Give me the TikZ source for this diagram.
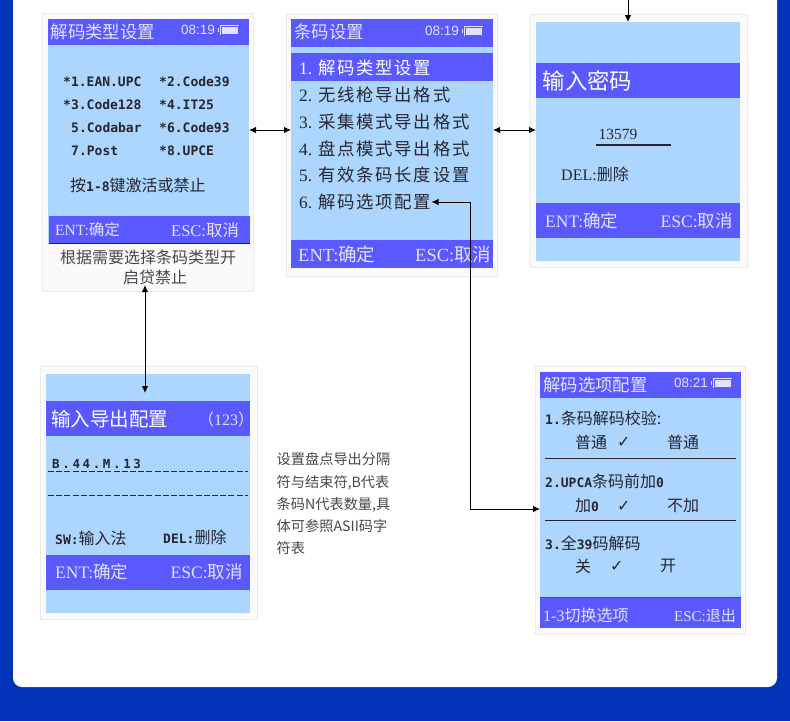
\documentclass[tikz,border=0pt]{standalone}
\usepackage{fontspec}
\usepackage{tikz}
\usetikzlibrary{shapes,arrows,arrows.meta,positioning}
\setmainfont{Noto Sans CJK SC}
\newfontfamily\menufont[LetterSpace=10]{Noto Sans CJK SC}
\newfontfamily\latfont{Liberation Serif}
\newfontfamily\timefont{Liberation Sans}
\newfontfamily\codefont{DejaVu Sans Mono}
\newfontfamily\widecode[LetterSpace=21]{DejaVu Sans Mono}
\newfontfamily\tickfont{DejaVu Sans}
\newcommand{\lat}[1]{{\latfont #1}}
\newcommand{\cd}[1]{{\codefont\bfseries\fontsize{13}{14}\selectfont #1}}
\newcommand{\num}[1]{\makebox[19pt][l]{\latfont #1}}
\definecolor{framebg}{HTML}{0033B8}
\definecolor{cardbg}{HTML}{FAFAFA}
\definecolor{cardline}{HTML}{EBEBEB}
\definecolor{scrbg}{HTML}{ADD6FF}
\definecolor{bandbg}{HTML}{5959FF}
\definecolor{pale}{HTML}{E2E2FF}
\definecolor{ink}{HTML}{262630}

\begin{document}
\begin{tikzpicture}[x=1pt, y=-1pt,
    card/.style={rectangle, draw=cardline, fill=cardbg, line width=1pt, anchor=north west, inner sep=0pt, outer sep=0pt},
    screen/.style={rectangle, fill=scrbg, anchor=north west, inner sep=0pt, outer sep=0pt},
    band/.style={rectangle, fill=bandbg, anchor=north west, inner sep=0pt, outer sep=0pt},
    txt/.style={anchor=west, inner sep=0pt, text=ink, font=\fontsize{16}{18}\selectfont},
    head/.style={txt, text=pale, font=\fontsize{17.4}{20}\selectfont},
    bighead/.style={txt, text=white, font=\fontsize{#1}{24}\selectfont},
    foot/.style={txt, text=pale, font=\fontsize{#1}{20}\selectfont},
    clock/.style={txt, text=pale, font=\timefont\fontsize{13.5}{16}\selectfont},
    menu/.style={txt, font=\menufont\fontsize{17.4}{20}\selectfont},
    tick/.style={txt, font=\tickfont\fontsize{16}{18}\selectfont},
    battery/.style={rectangle, draw=pale, double=bandbg, double distance=.8pt, line width=.7pt, fill=pale, minimum width=17pt, minimum height=8pt, inner sep=0pt, outer sep=1pt},
    nub/.style={rectangle, fill=pale, minimum width=1.5pt, minimum height=4pt, inner sep=0pt, outer sep=0pt},
    rule/.style={draw=ink, line width=1pt},
    dashrule/.style={draw=ink, line width=1pt, dash pattern=on 6pt off 2.2pt},
    biline/.style={draw, {Latex[length=7pt,width=6.5pt]}-{Latex[length=7pt,width=6.5pt]}, line width=1pt},
    oneline/.style={draw, -{Latex[length=7pt,width=6.5pt]}, line width=1pt}]

    % page
    \useasboundingbox (0,0) rectangle (790,721);
    \fill[framebg] (0,0) rectangle (790,721);
    \fill[white, rounded corners=9pt] (13,-30) -- (13,687) -- (777,687) -- (777,-30) -- cycle;

    % cards and screens
    \node [card, minimum width=210.5pt, minimum height=277.5pt] (typecard) at (42.5,13.5) {};
    \node [card, minimum width=210.5pt, minimum height=261.5pt] (setcard) at (286.5,14.5) {};
    \node [card, minimum width=216.5pt, minimum height=252.5pt] (pwdcard) at (530.5,14.5) {};
    \node [card, minimum width=216.5pt, minimum height=252.5pt] (iocard) at (40.5,366.5) {};
    \node [card, minimum width=210pt, minimum height=267.5pt] (optcard) at (535,366.5) {};

    \node [screen, minimum width=201pt, minimum height=225pt] (typescr) at (48,19) {};
    \node [screen, minimum width=202pt, minimum height=249pt] (setscr) at (291,19) {};
    \node [screen, minimum width=204pt, minimum height=239pt] (pwdscr) at (536,22) {};
    \node [screen, minimum width=204pt, minimum height=239pt] (ioscr) at (46,374) {};
    \node [screen, minimum width=201pt, minimum height=256pt] (optscr) at (540,372) {};

    % bands
    \foreach \nm/\bx/\by/\bw/\bh in {typetop/48/19/201/26, typebot/49/216/201/27,
        settop/291/19/202/28, setsel/291/53/202/28, setbot/291/240/202/28,
        pwdtop/536/63/204/35, pwdbot/536/203/204/35,
        iotop/46/401/204/35, iobot/46/555/204/35,
        opttop/540/372/201/26, optbot/540/597/201/31}
        \node [band, minimum width=\bw pt, minimum height=\bh pt] (\nm) at (\bx,\by) {};
    \draw [draw=ink, line width=.6pt] (typebot.south west) -- (typebot.south east);

    % status bars
    \foreach \nm/\bx/\by/\tm in {a/181/30/08:19, b/425/31/08:19, c/674/383/08:21} {
        \node [clock] (clock\nm) at (\bx,\by) {\tm};
        \node [battery, right=5pt of clock\nm] (batt\nm) {};
        \node [nub, left=1pt of batt\nm] (nub\nm) {};
    }

    % left card
    \node [head] (typetitle) at (50.5,32) {解码类型设置};
    \foreach \n/\bx/\by/\lbl in {1/63/82/*1.EAN.UPC, 2/159/82/*2.Code39, 3/63/105/*3.Code128, 4/159/105/*4.IT25,
        5/71/128/5.Codabar, 6/159/128/*6.Code93, 7/71/151/7.Post, 8/159/151/*8.UPCE}
        \node [txt] (type\n) at (\bx,\by) {\cd{\lbl}};
    \node [txt] (typehint) at (70,185) {按\cd{1-8}键激活或禁止};
    \node [foot=15.5] (typeok) at (55,230) {\lat{ENT:}确定};
    \node [foot=16.5] (typeesc) at (171,230) {\lat{ESC:}取消};
    \node [txt, text=ink!85] (typenote) at (60,257) {根据需要选择条码类型开};
    \node [txt, text=ink!85] (typenotb) at (123,277) {启贷禁止};

    % middle card
    \node [head] (settitle) at (294,32) {条码设置};
    \node [menu, text=white] (item1) at (299,67.5) {\num{1.}解码类型设置};
    \foreach \n/\by/\lbl in {2/95/无线枪导出格式, 3/122/采集模式导出格式, 4/148.5/盘点模式导出格式, 5/175/有效条码长度设置, 6/202/解码选项配置}
        \node [menu] (item\n) at (299,\by) {\num{\n.}\lbl};
    \node [foot=18.5] (setok) at (298,254) {\lat{ENT:}确定};
    \node [foot=18.5] (setesc) at (415,254) {\lat{ESC:}取消};

    % password card
    \node [bighead=22.3] (pwdtitle) at (542.5,81) {输入密码};
    \node [txt, font=\latfont\fontsize{15.5}{18}\selectfont] (pwdval) at (598.5,134.5) {13579};
    \draw [rule, line width=1.5pt] (596,145) -- (671,145);
    \node [txt] (pwddel) at (561,174) {\lat{DEL:}删除};
    \node [foot=17.5] (pwdok) at (545,220.5) {\lat{ENT:}确定};
    \node [foot=17.5] (pwdesc) at (660.5,220.5) {\lat{ESC:}取消};

    % export card
    \node [bighead=19.5] (iotitle) at (51,419) {输入导出配置};
    \node [txt, text=pale, font=\fontsize{16}{18}\selectfont] (iotag) at (198,419) {（\lat{123}）};
    \node [txt, font=\widecode\bfseries\fontsize{12.5}{14}\selectfont] (ioval) at (52,463.5) {B.44.M.13};
    \draw [dashrule] (48,471) -- (248,471);
    \draw [dashrule] (48,495) -- (248,495);
    \node [txt] (iosw) at (55,538) {\cd{SW:}输入法};
    \node [txt] (iodel) at (163,537) {\cd{DEL:}删除};
    \node [foot=17.5] (iook) at (55,572) {\lat{ENT:}确定};
    \node [foot=17.5] (ioesc) at (170.5,572) {\lat{ESC:}取消};

    % side text
    \node [anchor=north west, inner sep=0pt, align=left, text=ink!85, font=\fontsize{14.2}{22.3}\selectfont] (note) at (276.5,452.5)
        {设置盘点导出分隔\\符与结束符,B代表\\条码N代表数量,具\\体可参照ASII码字\\符表};

    % options card
    \node [head] (opttitle) at (543,384.5) {解码选项配置};
    \node [txt] (opta) at (545,418) {\cd{1.}条码解码校验:};
    \node [txt] (optaa) at (575,442) {普通};
    \node [tick] (opttka) at (617,442) {✓};
    \node [txt] (optab) at (667,442) {普通};
    \draw [rule] (545,458.5) -- (736,458.5);
    \node [txt] (optb) at (545,481) {\cd{2.UPCA}条码前加\cd{0}};
    \node [txt] (optba) at (575,506) {加\cd{0}};
    \node [tick] (opttkb) at (617,506) {✓};
    \node [txt] (optbb) at (667,506) {不加};
    \draw [rule] (545,520.5) -- (736,520.5);
    \node [txt] (optc) at (545,543) {\cd{3.}全\cd{39}码解码};
    \node [txt] (optca) at (575,566) {关};
    \node [tick] (opttkc) at (610,566) {✓};
    \node [txt] (optcb) at (660,566) {开};
    \draw [draw=ink!80, line width=1pt] (540,597) -- (741,597);
    \node [foot=16] (optswitch) at (543,615) {\lat{1-3}切换选项};
    \node [foot=15] (optesc) at (674,616) {\lat{ESC:}退出};

    % connectors
    \coordinate (midrow) at (270,130);
    \coordinate (topend) at (628,0);
    \coordinate (captip) at (145,285);
    \coordinate (iotip) at (145,393);
    \coordinate (optturn) at (470,509);
    \path [biline] (typescr.east |- midrow) -- (setscr.west |- midrow);
    \path [biline] (setscr.east |- midrow) -- (pwdscr.west |- midrow);
    \path [oneline] (topend) -- (pwdscr.north -| topend);
    \path [biline] (captip) -- (iotip);
    \path [biline] (item6.east) -| (optturn) -- (optscr.west |- optturn);
\end{tikzpicture}
\end{document}
